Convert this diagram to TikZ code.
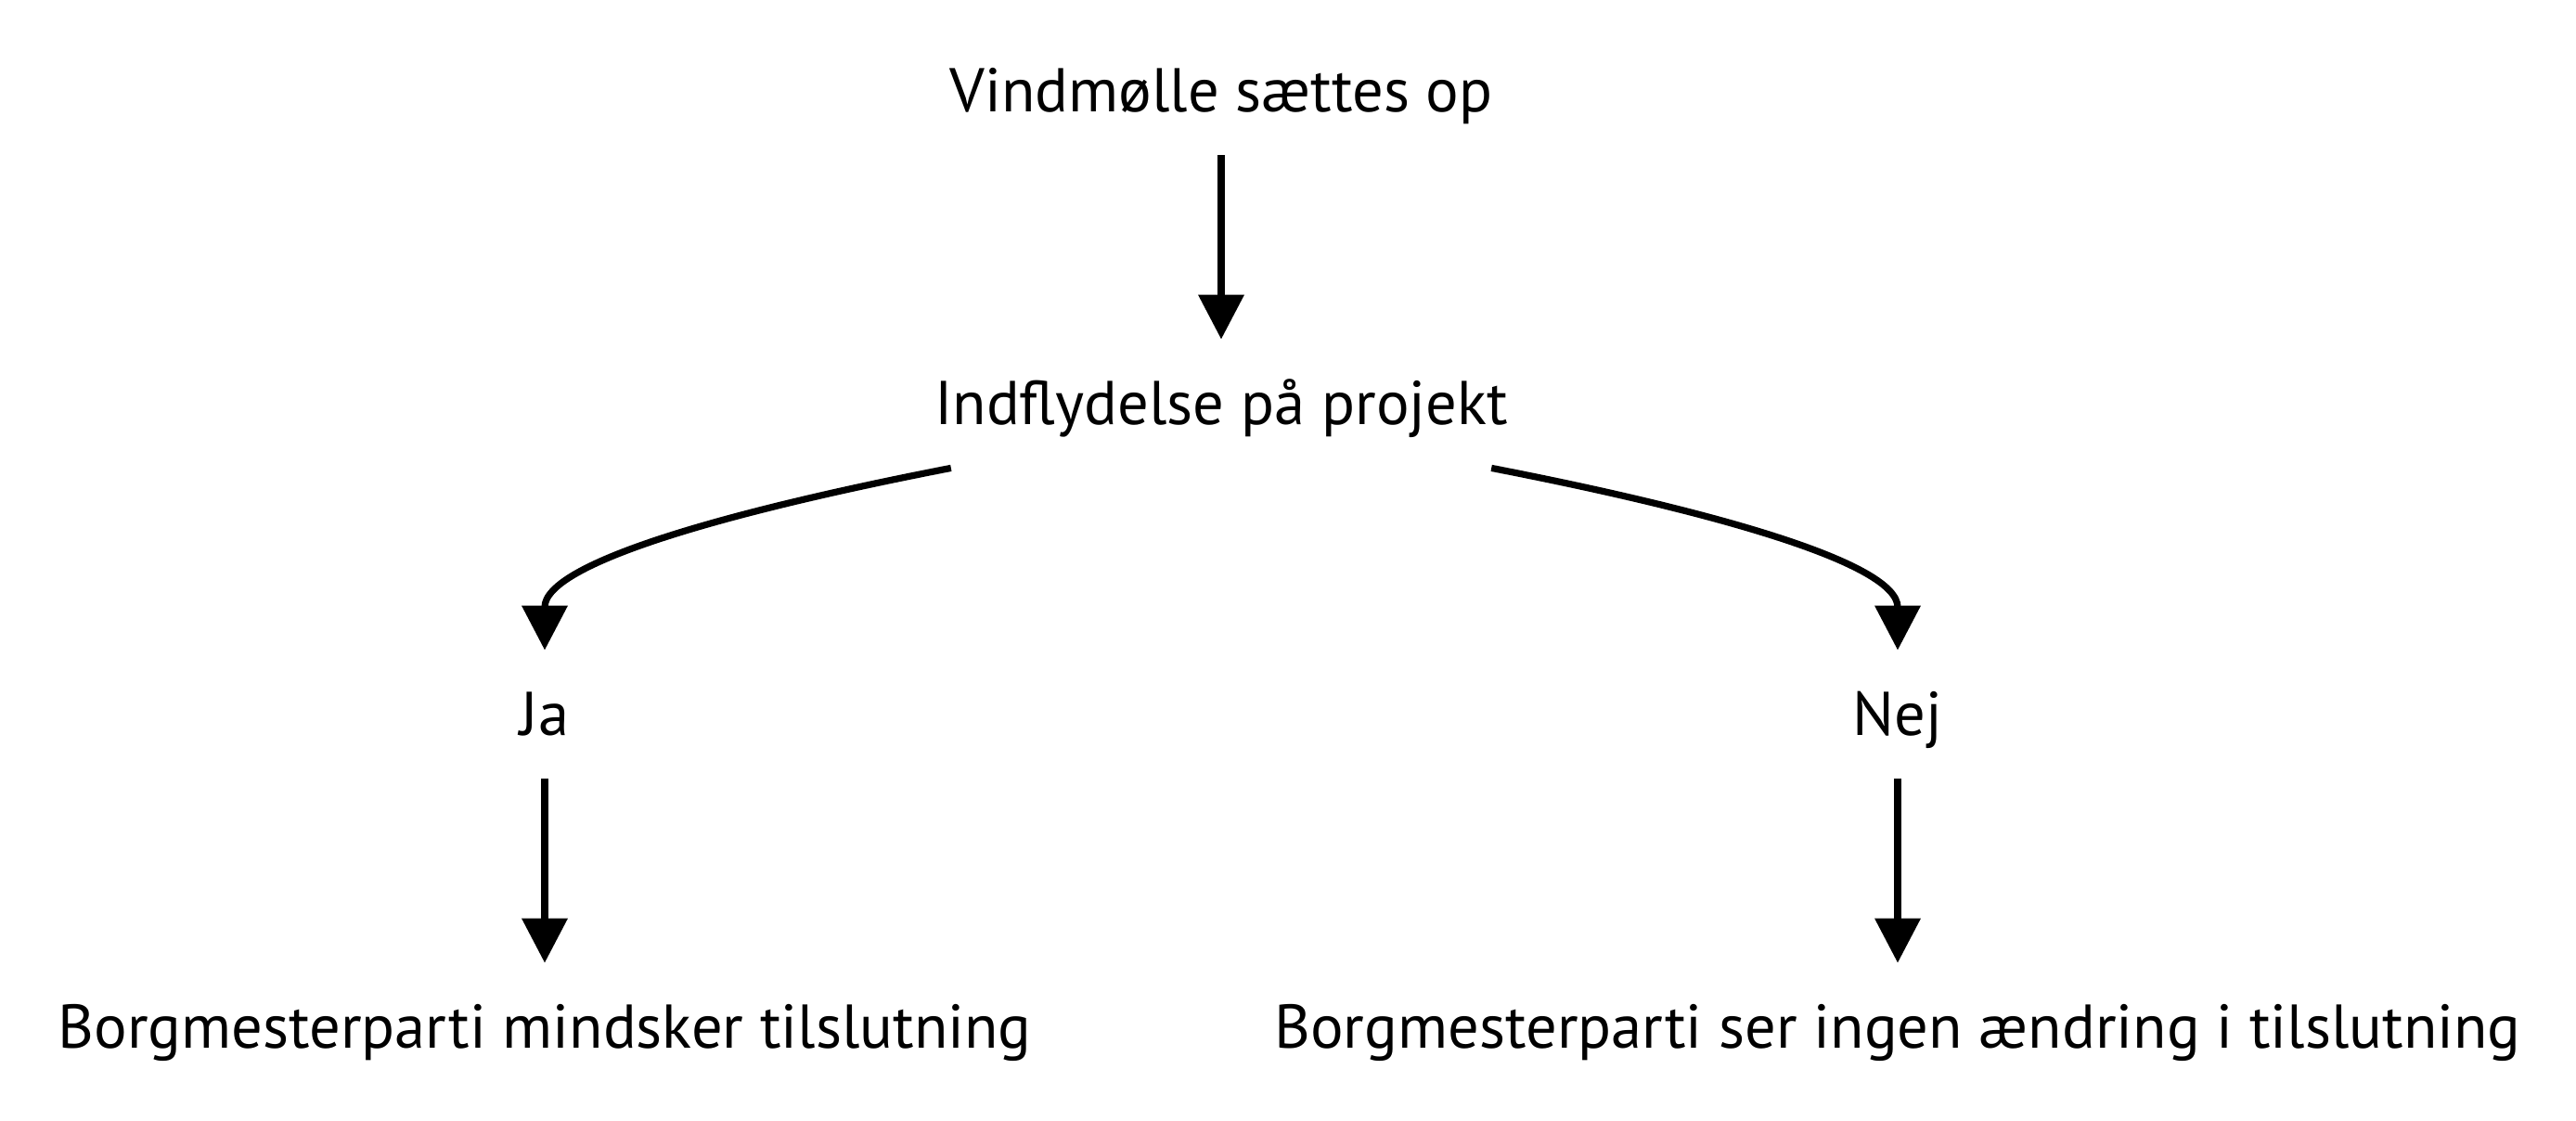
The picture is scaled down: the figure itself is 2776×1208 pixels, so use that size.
\documentclass[tikz,border=0pt]{standalone}
\usepackage{fontspec}
\setmainfont{PT Sans}
\usetikzlibrary{arrows.meta, calc}

\begin{document}
\begin{tikzpicture}[x=0.5pt, y=0.5pt,
		every node/.style={font=\fontsize{33.3}{40}\selectfont},
		box/.style={inner sep=0pt, text height=23pt, text depth=0pt, minimum height=69pt},
		arr/.style={-{Triangle[length=24pt, width=24pt]}, line width=3.6pt}]
			\useasboundingbox (0,0) rectangle (2776,1208);
			% Nodes
			\node[box] (vind) at (1316,1110) {Vindmølle sættes op};
			\node[box] (ind) at (1316,773) {Indflydelse på projekt};
			\node[box] (ja) at (587,438) {Ja};
			\node[box] (nej) at (2045,438) {Nej};
			\node[box] (mindre) at (587,101) {Borgmesterparti mindsker tilslutning};
			\node[box] (uaendret) at (2045,101) {Borgmesterparti ser ingen ændring i tilslutning};
			
			% Edges
			\path[arr] (vind) edge (ind);
			\path[arr] ($(ind.south west)+(18,0)$) edge[out=191, in=90, out looseness=1.3, in looseness=0.5] (ja);
			\path[arr] ($(ind.south east)+(-18,0)$) edge[out=-11, in=90, out looseness=1.3, in looseness=0.5] (nej);
			\path[arr] (ja) edge (mindre);
			\path[arr] (nej) edge (uaendret);
\end{tikzpicture}
\end{document}
